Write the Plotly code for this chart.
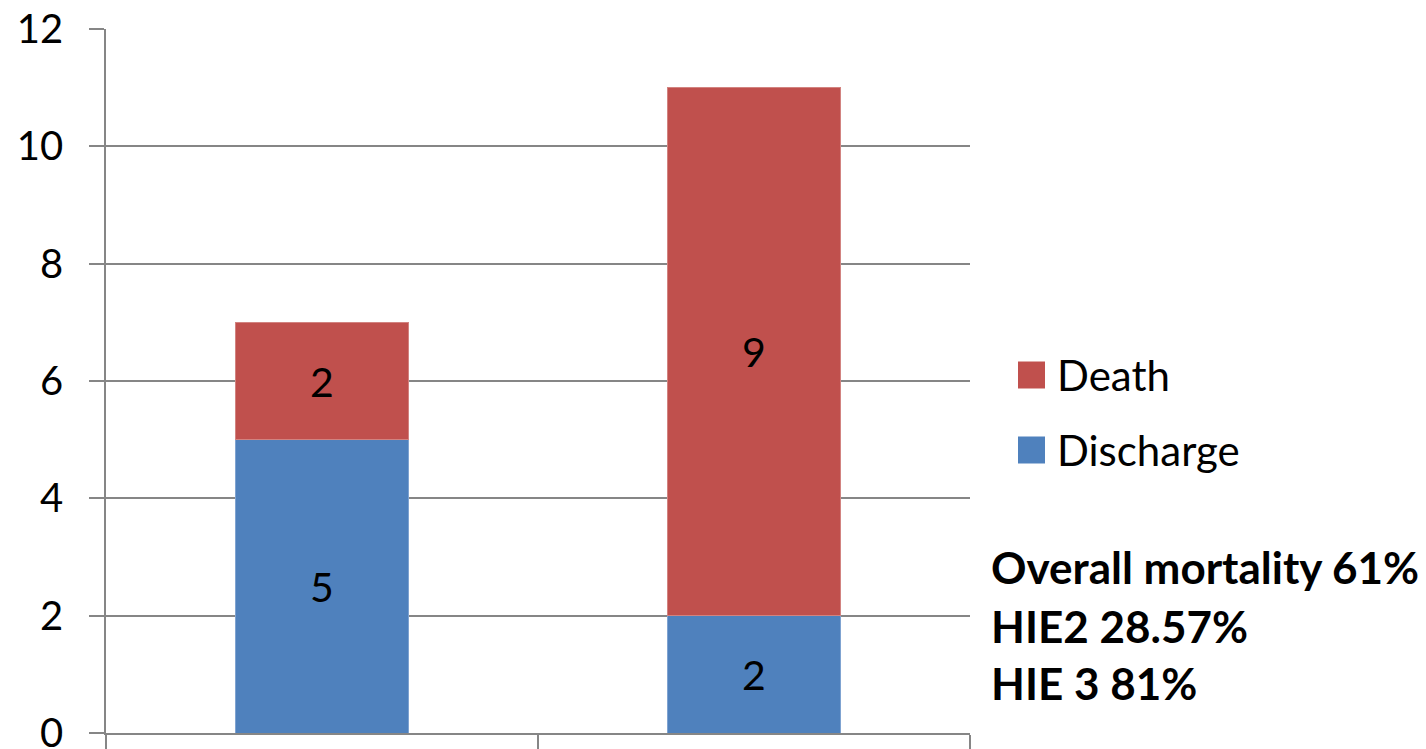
import plotly.graph_objects as go

categories = ["HIE 2", "HIE 3"]
discharge = [5, 2]
death = [2, 9]
y_ticks = [0, 2, 4, 6, 8, 10, 12]
notes = ["Overall mortality 61%", "HIE2 28.57%", "HIE 3 81%"]

BLUE = "#4F81BD"
RED = "#C0504D"
GRID = "#868686"
FONT = "Lato"

W, H = 1426, 749
L, R, T, B = 106, 970, 29, 733


def px(x):
    return (x - L) / (R - L)


def py(y):
    return (B - y) / (B - T)


fig = go.Figure()
fig.add_trace(go.Bar(x=categories, y=discharge, name="Discharge", marker=dict(color=BLUE, line=dict(color="#7FA3D1", width=1)),
                     text=[str(v) for v in discharge], textposition="inside", insidetextanchor="middle",
                     textfont=dict(family=FONT, size=41, color="black"), width=0.4, showlegend=False))
fig.add_trace(go.Bar(x=categories, y=death, name="Death", marker=dict(color=RED, line=dict(color="#D28380", width=1)),
                     text=[str(v) for v in death], textposition="inside", insidetextanchor="middle",
                     textfont=dict(family=FONT, size=41, color="black"), width=0.4, showlegend=False))

fig.update_layout(
    width=W, height=H, barmode="stack",
    margin=dict(l=L, r=W - R, t=T, b=H - B, pad=0, autoexpand=False),
    paper_bgcolor="white", plot_bgcolor="white",
    font=dict(family=FONT, color="black"),
    uniformtext=dict(minsize=10, mode="show"),
)
fig.update_yaxes(range=[0, 12], tickvals=y_ticks, showgrid=True, gridcolor=GRID, gridwidth=1.5,
                 showline=True, linecolor=GRID, linewidth=1.5, ticks="outside", ticklen=15,
                 tickcolor=GRID, tickwidth=1.5, tickfont=dict(family=FONT, size=40, color="black"),
                 zeroline=False, ticklabelstandoff=18, automargin=False, ticklabeloverflow="allow")
fig.update_xaxes(showticklabels=False, ticks="outside", tickson="boundaries", ticklen=15,
                 tickcolor=GRID, tickwidth=1.5, showline=True, linecolor=GRID, linewidth=2, showgrid=False,
                 automargin=False)

# legend (drawn manually to match large squares)
legend_items = [("Death", RED, 375), ("Discharge", BLUE, 450)]
for name, color, yc in legend_items:
    fig.add_shape(type="rect", xref="paper", yref="paper", x0=px(1018), x1=px(1045),
                  y0=py(yc + 13.5), y1=py(yc - 13.5), fillcolor=color, line=dict(width=0))
    fig.add_annotation(xref="paper", yref="paper", x=px(1055), y=py(yc), text=name, showarrow=False,
                       xanchor="left", yanchor="middle", font=dict(family=FONT, size=42, color="black"))

for txt, yc in zip(notes, [567, 626, 683]):
    fig.add_annotation(xref="paper", yref="paper", x=px(989), y=py(yc), text="<b>" + txt + "</b>",
                       showarrow=False, xanchor="left", yanchor="middle",
                       font=dict(family=FONT, size=44, color="black"))

fig.write_html("out.html")
